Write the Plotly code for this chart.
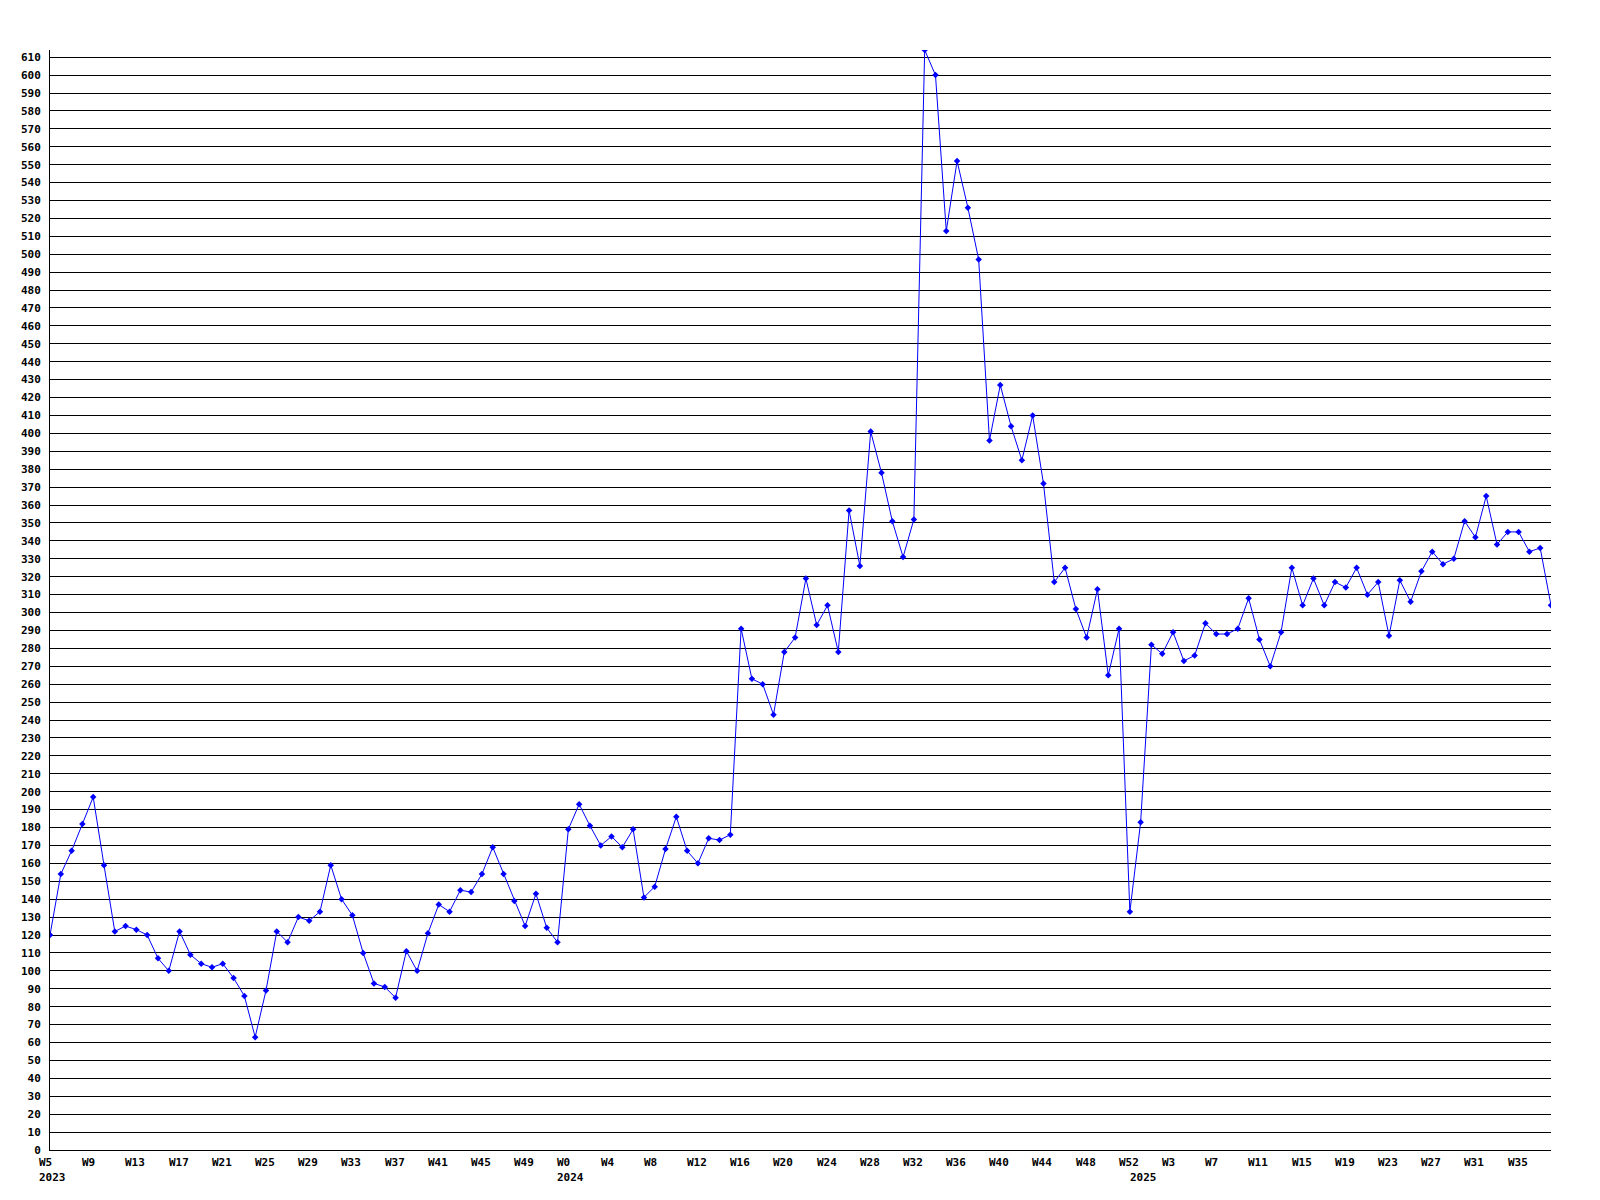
import plotly.graph_objects as go

# Weekly values, 2023 W5 .. 2025 W38 (one value per week)
values = [
    120, 154, 167, 182, 197, 159, 122, 125, 123, 120,
    107, 100, 122, 109, 104, 102, 104, 96, 86, 63,
    89, 122, 116, 130, 128, 133, 159, 140, 131, 110,
    93, 91, 85, 111, 100, 121, 137, 133, 145, 144,
    154, 169, 154, 139, 125, 143, 124, 116, 179, 193,
    181, 170, 175, 169, 179, 141, 147, 168, 186, 167,
    160, 174, 173, 176, 291, 263, 260, 243, 278, 286,
    319, 293, 304, 278, 357, 326, 401, 378, 351, 331,
    352, 614, 600, 513, 552, 526, 497, 396, 427, 404,
    385, 410, 372, 317, 325, 302, 286, 313, 265, 291,
    133, 183, 282, 277, 289, 273, 276, 294, 288, 288,
    291, 308, 285, 270, 289, 325, 304, 319, 304, 317,
    314, 325, 310, 317, 287, 318, 306, 323, 334, 327,
    330, 351, 342, 365, 338, 345, 345, 334, 336, 304,
]
x_index = list(range(len(values)))

# Week tick labels (every 4th point)
week_labels = [
    "W5", "W9", "W13", "W17", "W21", "W25", "W29", "W33", "W37", "W41", "W45", "W49",
    "W0", "W4", "W8", "W12", "W16", "W20", "W24", "W28", "W32", "W36", "W40", "W44", "W48", "W52",
    "W3", "W7", "W11", "W15", "W19", "W23", "W27", "W31", "W35",
]
week_label_pos = [4 * i for i in range(len(week_labels))]

# Year labels at the first point of each year
year_labels = ["2023", "2024", "2025"]
year_label_pos = [0, 48, 101]

FONT = dict(family="DejaVu Sans Mono", size=11, color="black", weight="bold")

fig = go.Figure()
fig.add_trace(go.Scatter(
    x=x_index, y=values, mode="lines+markers",
    line=dict(color="#0000FF", width=1),
    marker=dict(symbol="diamond", size=5, color="#0000FF"),
    showlegend=False, hoverinfo="skip",
))

annotations = []
for pos, lab in zip(week_label_pos, week_labels):
    annotations.append(dict(
        x=pos, xref="x", y=0, yref="paper", text=lab, showarrow=False,
        xanchor="left", yanchor="middle", xshift=-12, yshift=-12,
        font=FONT, borderpad=0,
    ))
for pos, lab in zip(year_label_pos, year_labels):
    annotations.append(dict(
        x=pos, xref="x", y=0, yref="paper", text=lab, showarrow=False,
        xanchor="left", yanchor="middle", xshift=-12, yshift=-27,
        font=FONT, borderpad=0,
    ))

fig.update_layout(
    width=1584, height=1184,
    margin=dict(l=42, r=41, t=42, b=42),
    paper_bgcolor="white", plot_bgcolor="white",
    annotations=annotations,
    xaxis=dict(
        range=[0, len(values) - 1], showgrid=False, zeroline=False,
        showticklabels=False, ticks="", showline=True, linecolor="black", linewidth=1,
    ),
    yaxis=dict(
        range=[0, max(values)], tick0=0, dtick=10, showgrid=True,
        gridcolor="black", gridwidth=1, zeroline=False,
        showline=True, linecolor="black", linewidth=1,
        ticks="", tickfont=FONT, ticklabelstandoff=6,
    ),
)

fig.write_html("out.html")
